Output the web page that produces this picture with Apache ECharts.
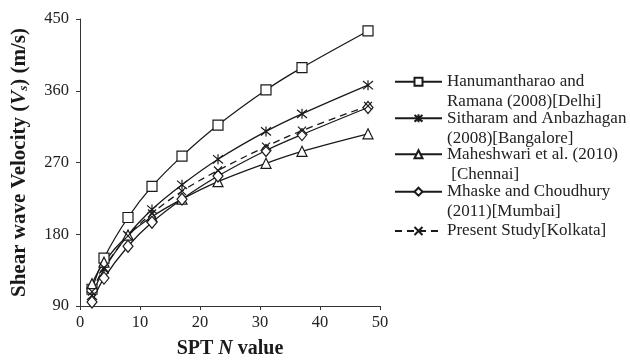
<!DOCTYPE html>
<html>
<head>
<meta charset="utf-8">
<script src="https://cdn.jsdelivr.net/npm/echarts@6/dist/echarts.min.js"></script>
<style>
  html, body { margin: 0; padding: 0; background: #fff; }
  #chart { width: 630px; height: 364px; }
</style>
</head>
<body>
<div id="chart"></div>
<script>
// SPT N values shared by every correlation
const spt = [2, 4, 8, 12, 17, 23, 31, 37, 48];

// Shear wave velocity (m/s) for each city correlation
const delhi     = [111, 150, 201, 240, 278, 317, 361, 389, 435];
const bangalore = [103, 136, 179, 211, 242, 274, 309, 331, 367];
const chennai   = [118, 145, 179, 202, 224, 246, 269, 284, 306];
const mumbai    = [95, 125, 165, 195, 224, 253, 285, 305, 339];
const kolkata   = [108, 138, 178, 206, 234, 260, 290, 310, 341];

const seriesNames = [
  'Hanumantharao and\nRamana (2008)[Delhi]',
  'Sitharam and Anbazhagan\n(2008)[Bangalore]',
  'Maheshwari et al. (2010)\n [Chennai]',
  'Mhaske and Choudhury\n(2011)[Mumbai]',
  'Present Study[Kolkata]'
];

const xTicks = { min: 0, max: 50, interval: 10 };
const yTicks = { min: 90, max: 450, interval: 90 };

const INK = '#1a1a1a';
const SERIF = '"Liberation Serif", "Times New Roman", serif';

const asterisk = 'path://M0,1L10,11M10,1L0,11M5,0L5,12';
const cross = 'path://M0,0L10,10M10,0L0,10';

function pairs(ys) { return spt.map((x, i) => [x, ys[i]]); }

function lineSeries(name, ys, symbol, size, dashed) {
  return {
    name: name,
    type: 'line',
    data: pairs(ys),
    smooth: 0.35,
    symbol: symbol,
    symbolSize: size,
    showAllSymbol: true,
    lineStyle: { color: INK, width: 1.3, type: dashed ? [7, 5] : 'solid' },
    itemStyle: { color: '#fff', borderColor: INK, borderWidth: 1.2 },
    emphasis: { disabled: true }
  };
}

// One legend block per entry; two-line labels get a blank leading line so
// the marker lines up with their first line of text.
const legendRows = [81.7, 118.3, 154.3, 191.7, 231];
const LINE_H = 20;
const legends = seriesNames.map((name, i) => {
  const twoLine = name.indexOf('\n') >= 0;
  return {
    data: [name],
    orient: 'vertical',
    left: 394,
    top: legendRows[i] - (twoLine ? 1.5 * LINE_H : 0.5 * LINE_H),
    padding: 0,
    itemWidth: 47,
    itemHeight: 10,
    selectedMode: false,
    formatter: twoLine ? (n) => '\n' + n : (n) => n,
    textStyle: { fontFamily: SERIF, fontSize: 17, color: '#222', lineHeight: LINE_H }
  };
});

const chart = echarts.init(document.getElementById('chart'), null, { renderer: 'canvas' });
chart.setOption({
  animation: false,
  backgroundColor: '#fff',
  grid: { left: 80, right: 250, top: 19, bottom: 53, containLabel: false },
  legend: legends,
  xAxis: {
    type: 'value',
    min: xTicks.min, max: xTicks.max, interval: xTicks.interval,
    name: 'SPT {i|N} value',
    nameLocation: 'middle',
    nameGap: 33,
    nameTextStyle: {
      fontFamily: SERIF, fontSize: 20, fontWeight: 'bold', color: INK,
      rich: { i: { fontFamily: SERIF, fontSize: 20, fontWeight: 'bold', fontStyle: 'italic', color: INK } }
    },
    axisLine: { show: true, lineStyle: { color: '#333', width: 1 } },
    axisTick: { show: true, inside: false, length: 4, lineStyle: { color: '#333' } },
    axisLabel: { fontFamily: SERIF, fontSize: 16.5, color: '#222', margin: 8 },
    splitLine: { show: false }
  },
  yAxis: {
    type: 'value',
    min: yTicks.min, max: yTicks.max, interval: yTicks.interval,
    name: 'Shear wave Velocity ({i|V}{sub|s}) (m/s)',
    nameLocation: 'middle',
    nameGap: 50,
    nameTextStyle: {
      fontFamily: SERIF, fontSize: 21, fontWeight: 'bold', color: INK,
      rich: {
        i: { fontFamily: SERIF, fontSize: 21, fontWeight: 'bold', fontStyle: 'italic', color: INK },
        sub: { fontFamily: SERIF, fontSize: 13, fontWeight: 'bold', fontStyle: 'italic', color: INK, verticalAlign: 'bottom', padding: [8, 0, 0, 0] }
      }
    },
    axisLine: { show: true, lineStyle: { color: '#333', width: 1 } },
    axisTick: { show: true, inside: false, length: 4, lineStyle: { color: '#333' } },
    axisLabel: { fontFamily: SERIF, fontSize: 16.5, color: '#222', margin: 11 },
    splitLine: { show: false }
  },
  series: [
    lineSeries(seriesNames[0], delhi, 'rect', 10, false),
    lineSeries(seriesNames[1], bangalore, asterisk, 10, false),
    lineSeries(seriesNames[2], chennai, 'triangle', 10, false),
    lineSeries(seriesNames[3], mumbai, 'diamond', [10, 12], false),
    lineSeries(seriesNames[4], kolkata, cross, 8, true)
  ]
});
</script>
</body>
</html>
